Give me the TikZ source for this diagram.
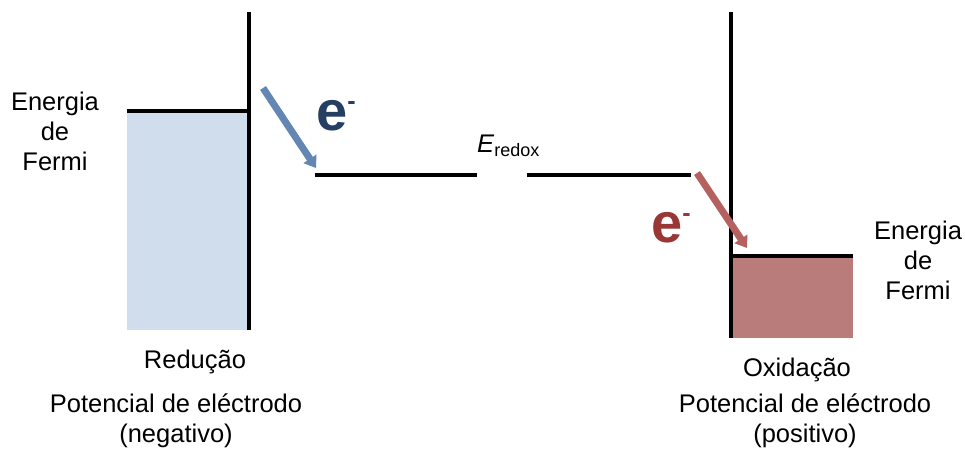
\documentclass[tikz,border=0pt]{standalone}
\usepackage{fontspec}
\setmainfont{Liberation Sans}
\usetikzlibrary{arrows.meta}
\definecolor{fillblue}{HTML}{D0DDED}
\definecolor{fillred}{HTML}{BA7C7B}
\definecolor{arrblue}{HTML}{6386B3}
\definecolor{arrred}{HTML}{B5615F}
\definecolor{eblue}{HTML}{253F63}
\definecolor{ered}{HTML}{983735}
\tikzset{
  txt/.style={font=\fontsize{25.5}{30}\selectfont, align=center, inner sep=0pt},
  level/.style={line width=4pt, black},
  wall/.style={line width=4pt, black},
  etrans/.style={line width=7pt, -{Triangle[length=11pt,width=15pt]}},
  elec/.style={inner sep=0pt, anchor=base west, font=\bfseries}
}
\newcommand{\elecsym}{{\fontsize{56}{56}\selectfont e}\raisebox{21pt}{\fontsize{25}{25}\selectfont -}}
\begin{document}
\begin{tikzpicture}[x=1pt,y=-1pt]
\useasboundingbox (0,0) rectangle (965,455);
% left electrode
\fill[fillblue] (127,112) rectangle (247,330);
\coordinate (lwt) at (249,12);
\coordinate (lwb) at (249,330);
\draw[wall] (lwt) -- (lwb);
\coordinate (lfa) at (127,111);
\coordinate (lfb) at (251,111);
\draw[level] (lfa) -- (lfb);
% right electrode
\fill[fillred] (733,258) rectangle (853,338);
\coordinate (rwt) at (731,12);
\coordinate (rwb) at (731,338);
\draw[wall] (rwt) -- (rwb);
\coordinate (rfa) at (729,256);
\coordinate (rfb) at (853,256);
\draw[level] (rfa) -- (rfb);
% redox level
\coordinate (ra1) at (315,175);
\coordinate (ra2) at (477,175);
\coordinate (rb1) at (527,175);
\coordinate (rb2) at (691,175);
\draw[line width=3.5pt] (ra1) -- (ra2);
\draw[line width=3.5pt] (rb1) -- (rb2);
\node[txt, anchor=base west] (eredox) at (477,152) {\textit{E}\raisebox{-4pt}{\fontsize{18}{18}\selectfont redox}};
% arrows
\coordinate (a1s) at (263,88);
\coordinate (a1e) at (316,168);
\draw[etrans, arrblue] (a1s) -- (a1e);
\coordinate (a2s) at (697,173);
\coordinate (a2e) at (747,248);
\draw[etrans, arrred] (a2s) -- (a2e);
% electrons
\node[elec, text=eblue] (eb) at (316,130) {\elecsym};
\node[elec, text=ered] (er) at (651,242) {\elecsym};
% labels
\node[txt] (efl) at (55,131) {Energia\\de\\Fermi};
\node[txt] (efr) at (918,260) {Energia\\de\\Fermi};
\node[txt] (red) at (195,362) {Redução};
\node[txt] (pl) at (176,421) {Potencial de eléctrodo\\(negativo)};
\node[txt] (ox) at (797,370) {Oxidação};
\node[txt] (pr) at (805,421) {Potencial de eléctrodo\\(positivo)};
\end{tikzpicture}
\end{document}
